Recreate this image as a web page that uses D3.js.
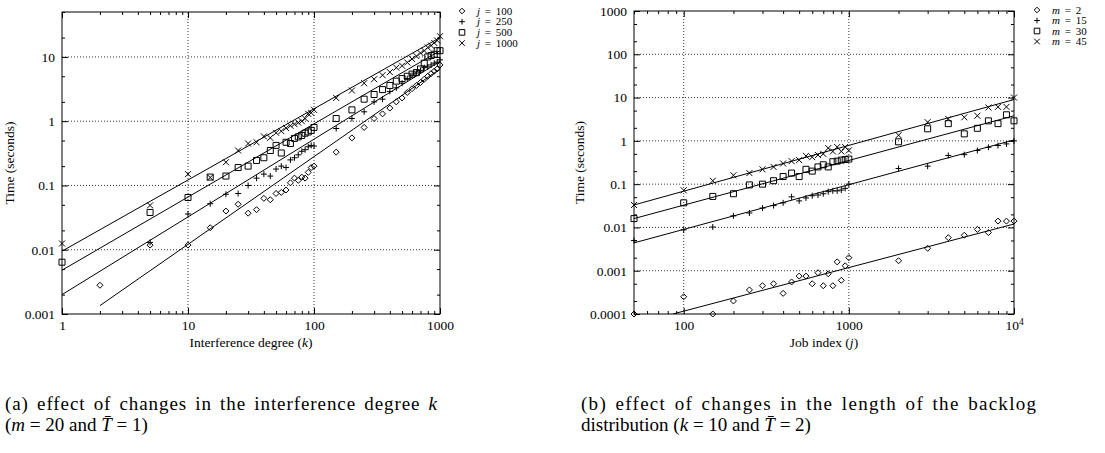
<!DOCTYPE html>
<html>
<head>
<meta charset="utf-8">
<script src="https://cdn.jsdelivr.net/npm/d3@7"></script>
<style>
  body { margin: 0; background: #fff; }
</style>
</head>
<body>
<svg id="chart" width="1105" height="453" font-family="'Liberation Serif', 'Times New Roman', serif"></svg>
<script>
/* ============================
   Data
============================ */

// (a) interference degree k
const degreeK = [1, 2, 5, 10, 15, 20, 25, 30, 35, 40, 45, 50, 55, 60, 65, 70, 75, 80, 85, 90, 95, 100,
  150, 200, 250, 300, 350, 400, 450, 500, 550, 600, 650, 700, 750, 800, 850, 900, 950, 1000];

const timeJ100 = [null, 0.0028, 0.0118, 0.0118, 0.022, 0.04, 0.051, 0.037, 0.042, 0.063, 0.06, 0.075, 0.078,
  0.085, 0.11, 0.13, 0.12, 0.135, 0.13, 0.16, 0.19, 0.2,
  0.33, 0.55, 0.8, 1.1, 1.3, 1.6, 2.0, 2.3, 2.8, 3.2, 3.6, 4.0, 4.5, 5.0, 5.5, 6.0, 6.5, 7.5];
const timeJ250 = [null, null, 0.013, 0.036, 0.052, 0.073, 0.075, 0.1, 0.13, 0.15, 0.14, 0.18, 0.2,
  0.19, 0.25, 0.27, 0.3, 0.34, 0.36, 0.4, 0.42, 0.41,
  0.77, 1.1, 1.4, 2.0, 2.2, 2.9, 3.3, 3.9, 4.6, 5.2, 5.6, 6.2, 6.8, 7.0, 7.5, 8.0, 8.3, 9.0];
const timeJ500 = [0.0064, null, 0.038, 0.065, 0.135, 0.14, 0.19, 0.2, 0.245, 0.27, 0.35, 0.42, 0.32,
  0.47, 0.45, 0.54, 0.57, 0.6, 0.65, 0.68, 0.72, 0.8,
  1.1, 1.5, 2.2, 2.6, 3.1, 3.6, 4.2, 4.6, 5.0, 5.4, 5.7, 6.5, 8.0, 10, 10.5, 11, 12.5, 12.5];
const timeJ1000 = [0.0125, null, 0.049, 0.15, 0.133, 0.23, 0.35, 0.45, 0.47, 0.58, 0.55, 0.66, 0.7,
  0.78, 0.85, 0.9, 0.95, 1.0, 1.1, 1.3, 1.35, 1.5,
  2.3, 3.0, 3.9, 4.5, 5.2, 5.8, 6.8, 7.3, 8.2, 9.3, 10.3, 11.5, 12.5, 14, 15, 16.5, 18, 21];

// fitted lines, [start, end] as [k, seconds]
const fitJ100 = [[2, 0.00135], [1000, 6.5]];
const fitJ250 = [[1, 0.002], [1000, 8.5]];
const fitJ500 = [[1, 0.0048], [1000, 12.5]];
const fitJ1000 = [[1, 0.0095], [1000, 20]];

// (b) job index j
const jobIndex = [50, 100, 150, 200, 250, 300, 350, 400, 450, 500, 550, 600, 650, 700, 750, 800, 850, 900, 950, 1000,
  2000, 3000, 4000, 5000, 6000, 7000, 8000, 9000, 10000];

const timeM2 = [0.0001, 0.00025, 0.0001, 0.0002, 0.00036, 0.00045, 0.0005, 0.0003, 0.00055, 0.00075,
  0.00075, 0.0005, 0.0009, 0.00045, 0.00085, 0.00045, 0.0016, 0.0006, 0.0013, 0.002,
  0.0017, 0.0033, 0.0058, 0.0066, 0.009, 0.0076, 0.014, 0.014, 0.014];
const timeM15 = [0.005, 0.0088, 0.0102, 0.0185, 0.0215, 0.028, 0.032, 0.037, 0.051, 0.041,
  0.048, 0.054, 0.056, 0.06, 0.067, 0.07, 0.07, 0.073, 0.08, 0.1,
  0.23, 0.26, 0.46, 0.48, 0.6, 0.71, 0.78, 0.85, 1.0];
const timeM30 = [0.016, 0.037, 0.052, 0.06, 0.096, 0.1, 0.12, 0.15, 0.18, 0.15,
  0.22, 0.2, 0.25, 0.28, 0.25, 0.33, 0.34, 0.36, 0.37, 0.38,
  0.95, 1.9, 2.5, 1.45, 1.95, 2.9, 2.5, 4.0, 2.9];
const timeM45 = [0.033, 0.072, 0.12, 0.16, 0.18, 0.22, 0.25, 0.3, 0.34, 0.36,
  0.45, 0.42, 0.47, 0.5, 0.68, 0.57, 0.72, 0.57, 0.72, 0.6,
  1.35, 2.7, 3.2, 3.5, 3.8, 5.9, 6.1, 6.1, 10];

const fitM2 = [[86, 0.0001], [10000, 0.012]];
const fitM15 = [[50, 0.0044], [10000, 1.05]];
const fitM30 = [[50, 0.016], [10000, 3.8]];
const fitM45 = [[50, 0.033], [10000, 9]];

// tick labels
const xMajorA = [1, 10, 100, 1000];
const yMajorA = [0.001, 0.01, 0.1, 1, 10];
const xMajorB = [100, 1000, 10000];
const yMajorB = [0.0001, 0.001, 0.01, 0.1, 1, 10, 100, 1000];

/* ============================
   Helpers
============================ */

const svg = d3.select("#chart");
const SERIF = "'Liberation Serif', 'Times New Roman', serif";

function symbolPath(kind, s) {
  if (kind === "diamond") return `M0,${-s}L${s},0L0,${s}L${-s},0Z`;
  if (kind === "plus") return `M${-s},0H${s}M0,${-s}V${s}`;
  if (kind === "square") return `M${-s},${-s}H${s}V${s}H${-s}Z`;
  return `M${-s},${-s}L${s},${s}M${s},${-s}L${-s},${s}`;
}

function fmtNum(d) {
  return String(+d.toPrecision(6));
}

function drawPlot(cfg) {
  const g = svg.append("g");
  const x = d3.scaleLog().domain(cfg.xDomain).range(cfg.xRange);
  const y = d3.scaleLog().domain(cfg.yDomain).range(cfg.yRange);
  const [xl, xr] = cfg.xRange;
  const [yb, yt] = cfg.yRange;

  const inside = (v, dom) => v > dom[0] * 1.0001 && v < dom[1] / 1.0001;

  // dotted grid
  g.selectAll("line.gx")
    .data(cfg.xMajor.filter(v => inside(v, cfg.xDomain)))
    .enter().append("line")
    .attr("x1", d => x(d)).attr("x2", d => x(d))
    .attr("y1", yb).attr("y2", yt)
    .attr("stroke", "#000").attr("stroke-width", 0.8)
    .attr("stroke-dasharray", "1,2");

  g.selectAll("line.gy")
    .data(cfg.yMajor.filter(v => inside(v, cfg.yDomain)))
    .enter().append("line")
    .attr("x1", xl).attr("x2", xr)
    .attr("y1", d => y(d)).attr("y2", d => y(d))
    .attr("stroke", "#000").attr("stroke-width", 0.8)
    .attr("stroke-dasharray", "1,2");

  // minor ticks from the scales
  const xMinor = x.ticks().filter(v => !cfg.xMajor.some(m => Math.abs(m - v) < 1e-9));
  const yMinor = y.ticks().filter(v => {
    const m = v / Math.pow(10, Math.floor(Math.log10(v) + 1e-9));
    return cfg.yMinorMult.some(k => Math.abs(k - m) < 1e-6);
  });

  function axis(fn, scale, vals, size, tr, labels, pad) {
    const a = g.append("g")
      .attr("transform", tr)
      .call(fn(scale).tickValues(vals).tickSize(size).tickPadding(pad || 0)
        .tickFormat(labels ? fmtNum : () => ""));
    a.select(".domain").remove();
    a.selectAll("line").attr("stroke", "#000").attr("stroke-width", 1);
    a.attr("font-family", SERIF).attr("font-size", 13.5);
    a.selectAll("text").attr("fill", "#000");
    return a;
  }

  const xMaj = cfg.xMajor.filter(v => v >= cfg.xDomain[0] && v <= cfg.xDomain[1]);
  const yMaj = cfg.yMajor;

  // bottom / top
  const bx = axis(d3.axisBottom, x, xMaj, -6, `translate(0,${yb})`, true, 6);
  axis(d3.axisBottom, x, xMinor, -3, `translate(0,${yb})`, false);
  axis(d3.axisTop, x, xMaj, -6, `translate(0,${yt})`, false);
  axis(d3.axisTop, x, xMinor, -3, `translate(0,${yt})`, false);
  // left / right
  axis(d3.axisLeft, y, yMaj, -6, `translate(${xl},0)`, true, 7);
  axis(d3.axisLeft, y, yMinor, -3, `translate(${xl},0)`, false);
  axis(d3.axisRight, y, yMaj, -6, `translate(${xr},0)`, false);
  axis(d3.axisRight, y, yMinor, -3, `translate(${xr},0)`, false);

  // 10^4 label
  bx.selectAll("text").each(function (d) {
    if (d === 10000) {
      const t = d3.select(this).text("");
      t.append("tspan").text("10");
      t.append("tspan").attr("dy", "-0.45em").attr("font-size", 9.5).text("4");
    }
  });

  // frame
  g.append("rect")
    .attr("x", xl).attr("y", yt)
    .attr("width", xr - xl).attr("height", yb - yt)
    .attr("fill", "none").attr("stroke", "#000").attr("stroke-width", 1);

  // fitted lines, clipped to the plot
  const clipId = cfg.id + "-clip";
  g.append("clipPath").attr("id", clipId)
    .append("rect").attr("x", xl).attr("y", yt)
    .attr("width", xr - xl).attr("height", yb - yt);

  const line = d3.line().x(d => x(d[0])).y(d => y(d[1]));
  g.append("g").attr("clip-path", `url(#${clipId})`)
    .selectAll("path")
    .data(cfg.series)
    .enter().append("path")
    .attr("d", s => line(s.fit))
    .attr("fill", "none").attr("stroke", "#000").attr("stroke-width", 1);

  // markers
  cfg.series.forEach(s => {
    const pts = cfg.xs.map((v, i) => [v, s.values[i]]).filter(p => p[1] != null);
    g.append("g").selectAll("path")
      .data(pts)
      .enter().append("path")
      .attr("transform", p => `translate(${x(p[0])},${y(p[1])})`)
      .attr("d", symbolPath(s.symbol, 3))
      .attr("fill", "none").attr("stroke", "#000").attr("stroke-width", 1);
  });

  // legend
  const leg = g.append("g").attr("font-family", SERIF).attr("font-size", 11);
  cfg.series.forEach((s, i) => {
    const ly = cfg.legend.y + i * cfg.legend.dy;
    leg.append("path")
      .attr("transform", `translate(${cfg.legend.x},${ly})`)
      .attr("d", symbolPath(s.symbol, 2.8))
      .attr("fill", "none").attr("stroke", "#000").attr("stroke-width", 1);
    const t = leg.append("text")
      .attr("x", cfg.legend.x + 15).attr("y", ly + 3.5)
      .attr("word-spacing", 2);
    t.append("tspan").attr("font-style", "italic").text(cfg.legend.sym);
    t.append("tspan").text(" = " + s.label);
  });

  // axis titles
  const xt = g.append("text")
    .attr("x", (xl + xr) / 2).attr("y", yb + 33)
    .attr("text-anchor", "middle")
    .attr("font-family", SERIF).attr("font-size", 13.5);
  xt.append("tspan").text(cfg.xTitle + " (");
  xt.append("tspan").attr("font-style", "italic").text(cfg.xSym);
  xt.append("tspan").text(")");

  g.append("text")
    .attr("transform", `translate(${cfg.yTitleX},${(yb + yt) / 2}) rotate(-90)`)
    .attr("text-anchor", "middle")
    .attr("font-family", SERIF).attr("font-size", 13.5)
    .text("Time (seconds)");
}

/* ============================
   Plot (a)
============================ */

drawPlot({
  id: "pa",
  xDomain: [1, 1000], xRange: [62, 440],
  yDomain: [0.001, 50], yRange: [314, 12],
  xMajor: xMajorA, yMajor: yMajorA, yMinorMult: [2, 5],
  xs: degreeK,
  xTitle: "Interference degree", xSym: "k", yTitleX: 14,
  legend: { x: 462, y: 11, dy: 10.7, sym: "j" },
  series: [
    { label: "100", symbol: "diamond", values: timeJ100, fit: fitJ100 },
    { label: "250", symbol: "plus", values: timeJ250, fit: fitJ250 },
    { label: "500", symbol: "square", values: timeJ500, fit: fitJ500 },
    { label: "1000", symbol: "cross", values: timeJ1000, fit: fitJ1000 }
  ]
});

/* ============================
   Plot (b)
============================ */

drawPlot({
  id: "pb",
  xDomain: [50, 10000], xRange: [634, 1014],
  yDomain: [0.0001, 1000], yRange: [314, 11],
  xMajor: xMajorB, yMajor: yMajorB, yMinorMult: [2, 5],
  xs: jobIndex,
  xTitle: "Job index", xSym: "j", yTitleX: 584,
  legend: { x: 1037, y: 10, dy: 10.5, sym: "m" },
  series: [
    { label: "2", symbol: "diamond", values: timeM2, fit: fitM2 },
    { label: "15", symbol: "plus", values: timeM15, fit: fitM15 },
    { label: "30", symbol: "square", values: timeM30, fit: fitM30 },
    { label: "45", symbol: "cross", values: timeM45, fit: fitM45 }
  ]
});

/* ============================
   Captions
============================ */

// first line is spread to the reference width, mostly at the word gaps
function caption(x, y, parts, width) {
  const t = svg.append("text").attr("x", x).attr("y", y)
    .attr("font-family", SERIF).attr("font-size", 19);
  parts.forEach(p => {
    const s = t.append("tspan").text(p[0]);
    if (p[1]) s.attr("font-style", "italic");
  });
  if (width) {
    const txt = t.text();
    const gaps = (txt.match(/ /g) || []).length;
    t.attr("word-spacing", 2.5);
    const len = t.node().getComputedTextLength();
    t.attr("letter-spacing", Math.max(0, (width - len) / (txt.length - 1)));
  }
}

caption(5, 410, [["(a) effect of changes in the interference degree "], ["k", true]], 432);
caption(5, 431, [["("], ["m", true], [" = 20 and "], ["T\u0304", true], [" = 1)"]]);
caption(581, 410, [["(b) effect of changes in the length of the backlog"]], 455);
caption(581, 431, [["distribution ("], ["k", true], [" = 10 and "], ["T\u0304", true], [" = 2)"]]);
</script>
</body>
</html>
